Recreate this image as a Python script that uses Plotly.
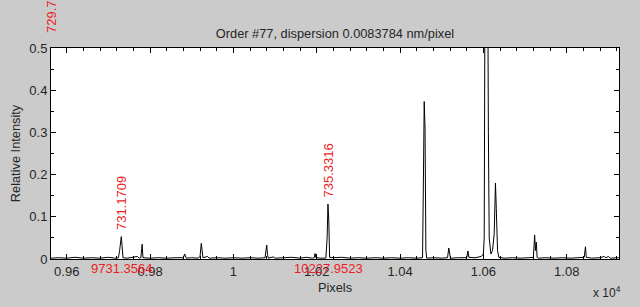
import numpy as np
import plotly.graph_objects as go

# ---- data: spectrum (detector pixel, relative intensity) ----
pixel = [9562, 9580, 9600, 9620, 9640, 9660, 9680, 9700, 9715, 9724, 9727, 9729, 9731, 9733, 9735,
         9745, 9760, 9770, 9774, 9778, 9780, 9781, 9783, 9800, 9820, 9840, 9860, 9880, 9883, 9885,
         9887, 9900, 9915, 9920, 9923, 9925, 9927, 9938, 9942, 9960, 9980, 10000, 10020, 10040,
         10060, 10076, 10078, 10080, 10082, 10084, 10096, 10100, 10120, 10140, 10160, 10175, 10190,
         10194, 10196, 10198, 10210, 10222, 10225, 10227, 10229, 10231, 10240, 10260, 10280, 10300,
         10320, 10340, 10360, 10380, 10400, 10420, 10440, 10454, 10456, 10458, 10460, 10462, 10464,
         10480, 10500, 10514, 10517, 10519, 10521, 10540, 10560, 10563, 10565, 10580, 10595, 10600,
         10602, 10604, 10607, 10610, 10612, 10614, 10618, 10622, 10626, 10629, 10631, 10634, 10637,
         10650, 10670, 10690, 10710, 10720, 10723, 10725, 10727, 10729, 10731, 10750, 10770, 10790,
         10810, 10830, 10842, 10845, 10847, 10860, 10880, 10890, 10894, 10900, 10905, 10925]
intensity = [0.002, 0.003, 0.002, 0.004, 0.002, 0.003, 0.002, 0.004, 0.002, 0.003, 0.020, 0.045, 0.053, 0.030, 0.003,
             0.002, 0.004, 0.006, 0.002, 0.003, 0.025, 0.035, 0.003, 0.002, 0.003, 0.002, 0.003, 0.003, 0.012, 0.008,
             0.002, 0.003, 0.002, 0.006, 0.037, 0.020, 0.003, 0.006, 0.002, 0.003, 0.002, 0.003, 0.002, 0.003,
             0.002, 0.003, 0.015, 0.033, 0.010, 0.002, 0.005, 0.002, 0.003, 0.004, 0.002, 0.004, 0.002,
             0.003, 0.013, 0.003, 0.002, 0.002, 0.050, 0.130, 0.090, 0.004, 0.003, 0.004, 0.002, 0.003,
             0.002, 0.003, 0.002, 0.003, 0.002, 0.003, 0.002, 0.003, 0.180, 0.373, 0.310, 0.020, 0.002,
             0.003, 0.002, 0.003, 0.026, 0.012, 0.002, 0.003, 0.003, 0.019, 0.004, 0.003, 0.006, 0.012,
             0.050, 0.700, 1.000, 0.800, 0.300, 0.050, 0.012, 0.020, 0.060, 0.180, 0.120, 0.020, 0.004,
             0.002, 0.003, 0.002, 0.003, 0.004, 0.057, 0.020, 0.040, 0.004, 0.002, 0.003, 0.002, 0.003,
             0.002, 0.003, 0.004, 0.029, 0.004, 0.002, 0.003, 0.006, 0.003, 0.006, 0.002, 0.003]

# ---- identified lines ----
line_wavelength = ["729.7640", "731.1709", "735.3316"]
line_pixel = [9563.4, 9731.3564, 10227.9523]
line_height = [0.52, 0.053, 0.130]
pixel_label = ["", "9731.3564", "10227.9523"]

# ---- axis ticks ----
x_tick_vals = [9600, 9800, 10000, 10200, 10400, 10600, 10800]
x_tick_text = ["0.96", "0.98", "1", "1.02", "1.04", "1.06", "1.08"]

X_RANGE = [9562.3, 10925.5]
Y_RANGE = [0, 0.5]
RED = "#ec1c24"
FONT = "Liberation Sans, Arial, sans-serif"
TXT = "#262626"

fig = go.Figure()
fig.add_trace(go.Scatter(x=pixel, y=intensity, mode="lines",
                         line=dict(color="black", width=1), hoverinfo="skip",
                         showlegend=False))

annotations = []
for wl, px, h, pl in zip(line_wavelength, line_pixel, line_height, pixel_label):
    annotations.append(dict(x=px, xref="x", y=h / Y_RANGE[1], yref="paper",
                            text=wl, textangle=-90, showarrow=False,
                            xanchor="center", yanchor="bottom", yshift=5,
                            font=dict(family=FONT, size=13, color=RED)))
    if pl:
        annotations.append(dict(x=px, xref="x", y=-0.047, yref="paper",
                                text=pl, showarrow=False,
                                xanchor="center", yanchor="middle",
                                font=dict(family=FONT, size=13, color=RED)))
annotations.append(dict(x=1.007, xref="paper", y=-0.156, yref="paper",
                        text="x 10<sup>4</sup>", showarrow=False,
                        xanchor="right", yanchor="middle",
                        font=dict(family=FONT, size=12, color=TXT)))

axis_common = dict(showline=True, linecolor="black", linewidth=1, mirror="ticks",
                   ticks="inside", ticklen=5, tickcolor="black", showgrid=False,
                   zeroline=False, tickfont=dict(family=FONT, size=13, color=TXT))

fig.update_layout(
    width=640, height=307,
    margin=dict(l=51, r=21, t=48, b=48),
    paper_bgcolor="#cbcbcb", plot_bgcolor="white",
    title=dict(text="Order #77, dispersion 0.0083784 nm/pixel",
               x=(51 + 619) / 2 / 640, xanchor="center", y=1 - 34 / 307, yanchor="middle",
               font=dict(family=FONT, size=12.8, color=TXT)),
    xaxis=dict(range=X_RANGE, tickmode="array", tickvals=x_tick_vals, ticktext=x_tick_text,
               minor=dict(ticks="inside", ticklen=3, tickcolor="black",
                          tickmode="array", tickvals=list(np.arange(9520, 10960, 40))),
               title=dict(text="Pixels", standoff=5,
                          font=dict(family=FONT, size=12.8, color=TXT)),
               **axis_common),
    yaxis=dict(range=Y_RANGE, tickmode="linear", tick0=0, dtick=0.1,
               minor=dict(ticks="inside", ticklen=3, tickcolor="black", dtick=0.05),
               title=dict(text="Relative Intensity", standoff=5,
                          font=dict(family=FONT, size=12.8, color=TXT)),
               **axis_common),
    annotations=annotations,
)

fig.write_html("out.html")
